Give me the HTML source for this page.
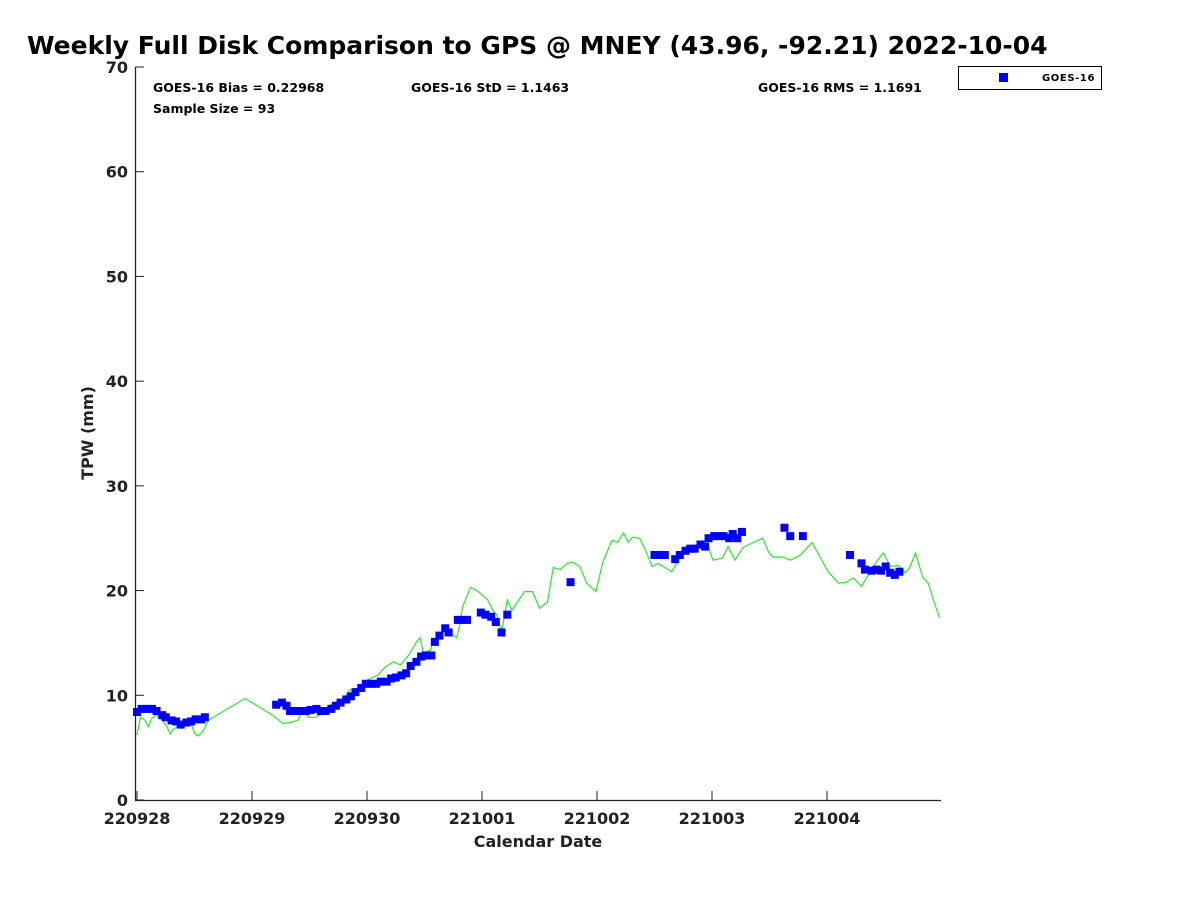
<!DOCTYPE html>
<html><head><meta charset="utf-8"><style>
html,body{margin:0;padding:0;background:#fff;}
svg text{font-family:"DejaVu Sans","Liberation Sans",sans-serif;font-weight:bold;}
</style></head><body>
<svg id="chart" width="1200" height="900" xmlns="http://www.w3.org/2000/svg">
<text x="27" y="54" font-size="25" fill="#000">Weekly Full Disk Comparison to GPS @ MNEY (43.96, -92.21) 2022-10-04</text>
<g id="axes"></g>
<g id="series"></g>
<text x="153" y="92" font-size="12.5">GOES-16 Bias = 0.22968</text>
<text x="153" y="113" font-size="12.5">Sample Size = 93</text>
<text x="411" y="92" font-size="12.5">GOES-16 StD = 1.1463</text>
<text x="758" y="92" font-size="12.5">GOES-16 RMS = 1.1691</text>
<g>
<rect x="958.5" y="66.5" width="143" height="23" fill="#fff" stroke="#000" stroke-width="1"/>
<rect x="999" y="73" width="9" height="9" fill="#0000ff"/>
<text x="1042" y="81" font-size="10" letter-spacing="0.6">GOES-16</text>
</g>
<text x="538" y="847" font-size="16" text-anchor="middle" fill="#222">Calendar Date</text>
<text transform="translate(93,433) rotate(-90)" font-size="16" text-anchor="middle" fill="#222">TPW (mm)</text>
</svg>
<script>
const xTickLabels = ["220928","220929","220930","221001","221002","221003","221004"];
const yTickValues = [0,10,20,30,40,50,60,70];
const gpsDays = [0.0,0.03,0.07,0.10,0.13,0.17,0.22,0.26,0.29,0.31,0.35,0.37,0.42,0.46,0.50,0.53,0.57,0.62,0.94,1.18,1.27,1.33,1.40,1.44,1.49,1.55,1.62,1.68,1.77,1.85,1.94,2.01,2.09,2.16,2.23,2.29,2.36,2.43,2.46,2.49,2.55,2.57,2.65,2.70,2.74,2.78,2.81,2.83,2.90,2.94,2.98,3.05,3.10,3.13,3.17,3.22,3.26,3.37,3.44,3.50,3.57,3.62,3.68,3.74,3.79,3.85,3.91,3.99,4.05,4.13,4.18,4.23,4.27,4.31,4.37,4.42,4.48,4.53,4.59,4.65,4.72,4.79,4.88,4.97,5.01,5.09,5.14,5.20,5.27,5.36,5.44,5.49,5.53,5.62,5.68,5.77,5.87,5.94,6.01,6.10,6.17,6.23,6.30,6.37,6.44,6.49,6.55,6.62,6.68,6.72,6.77,6.83,6.88,6.94,6.98];
const gpsTpw = [6.2,7.9,7.6,7.0,7.8,8.1,7.6,7.0,6.3,6.7,7.0,7.4,7.4,7.6,6.4,6.1,6.5,7.6,9.7,8.1,7.3,7.4,7.6,8.6,7.9,7.9,8.3,9.1,9.3,10.5,10.7,11.5,11.9,12.7,13.2,12.9,13.8,15.1,15.5,14.1,14.3,15.0,16.0,16.2,15.8,15.5,16.9,18.4,20.3,20.1,19.8,19.1,18.0,17.7,16.0,19.1,18.1,19.9,19.9,18.3,18.9,22.2,22.0,22.6,22.7,22.3,20.7,19.9,22.7,24.8,24.6,25.5,24.6,25.1,25.0,23.9,22.3,22.6,22.2,21.8,23.1,23.9,24.5,24.1,22.9,23.1,24.2,22.9,24.1,24.6,25.0,23.7,23.2,23.2,22.9,23.4,24.6,23.2,21.8,20.7,20.8,21.2,20.4,21.7,22.9,23.6,22.3,22.4,21.7,22.2,23.6,21.3,20.7,18.6,17.4];
const goesDays = [0.00,0.04,0.09,0.13,0.17,0.22,0.25,0.30,0.34,0.38,0.43,0.47,0.51,0.56,0.59,1.21,1.26,1.30,1.33,1.38,1.43,1.47,1.51,1.56,1.60,1.64,1.69,1.73,1.77,1.82,1.86,1.90,1.95,1.99,2.03,2.08,2.12,2.17,2.21,2.25,2.30,2.34,2.38,2.43,2.47,2.51,2.56,2.59,2.63,2.68,2.71,2.79,2.83,2.87,2.99,3.03,3.08,3.12,3.17,3.22,3.77,4.50,4.55,4.59,4.68,4.72,4.77,4.81,4.85,4.90,4.94,4.97,5.02,5.06,5.10,5.15,5.18,5.22,5.26,5.63,5.68,5.79,6.20,6.30,6.33,6.39,6.43,6.47,6.51,6.55,6.59,6.63];
const goesTpw = [8.4,8.7,8.7,8.7,8.5,8.1,7.9,7.6,7.5,7.2,7.4,7.5,7.7,7.7,7.9,9.1,9.3,9.0,8.5,8.5,8.5,8.5,8.6,8.7,8.5,8.5,8.7,9.0,9.3,9.6,9.9,10.3,10.7,11.1,11.1,11.1,11.3,11.3,11.6,11.7,11.9,12.1,12.8,13.2,13.7,13.8,13.8,15.1,15.7,16.4,16.0,17.2,17.2,17.2,17.9,17.7,17.5,17.0,16.0,17.7,20.8,23.4,23.4,23.4,23.0,23.4,23.8,24.0,24.0,24.4,24.2,25.0,25.2,25.2,25.2,25.0,25.4,25.0,25.6,26.0,25.2,25.2,23.4,22.6,22.0,21.9,22.0,21.9,22.3,21.7,21.5,21.8];

const NS="http://www.w3.org/2000/svg";
const X0=137, DAYPX=115, Y0=800, YPX=733/70;
const xs=d=>X0+d*DAYPX, ys=v=>Y0-v*YPX;
function mk(tag,parent,attrs){const e=document.createElementNS(NS,tag);for(const k in attrs)e.setAttribute(k,attrs[k]);parent.appendChild(e);return e;}
const axes=document.getElementById('axes'), series=document.getElementById('series');
let e=mk('line',axes,{x1:135.5,y1:67,x2:135.5,y2:800.5,stroke:'#222','stroke-width':1.3});


e=mk('line',axes,{x1:135,y1:800.5,x2:941,y2:800.5,stroke:'#222','stroke-width':1.3});


yTickValues.forEach(v=>{
  const y=ys(v);
  let t=mk('line',axes,{x1:135.5,y1:y,x2:144,y2:y,stroke:'#222','stroke-width':1});
  
  
  let l=mk('text',axes,{x:128,y:y+6,'font-size':16,'text-anchor':'end',fill:'#222'});
  l.textContent=v;
  
  
});
xTickLabels.forEach((lab,i)=>{
  const x=xs(i);
  let t=mk('line',axes,{x1:x,y1:800.5,x2:x,y2:791,stroke:'#222','stroke-width':1});
  
  
  let l=mk('text',axes,{x:x,y:824,'font-size':16,'text-anchor':'middle',fill:'#222'});
  l.textContent=lab;
  
  
});
const pts=gpsDays.map((d,i)=>xs(d).toFixed(1)+','+ys(gpsTpw[i]).toFixed(1)).join(' ');
let pl=mk('polyline',series,{points:pts,fill:'none',stroke:'#22ee22','stroke-width':1.2});


goesDays.forEach((d,i)=>{
  let r=mk('rect',series,{x:xs(d)-4,y:ys(goesTpw[i])-4,width:8,height:8,fill:'#0000ff'});
  
  
});
</script>
</body></html>
